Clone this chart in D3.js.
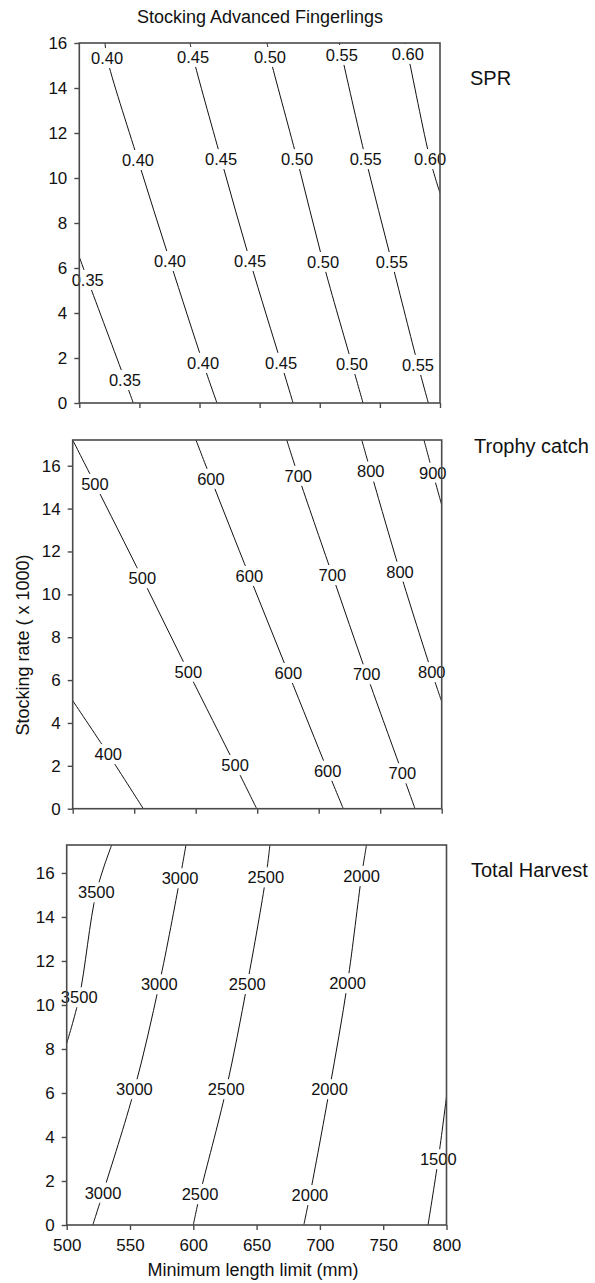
<!DOCTYPE html>
<html>
<head>
<meta charset="utf-8">
<script src="https://cdn.jsdelivr.net/npm/d3@7"></script>
<style>
    body { margin: 0; background: #fff; }
    svg text { font-family: Arial, "Liberation Sans", sans-serif; fill: #111; }
</style>
</head>
<body>
<div id="chart"></div>
<script>
// Shared axis ticks
const xTicks = [500, 550, 600, 650, 700, 750, 800];
const yTicks = [0, 2, 4, 6, 8, 10, 12, 14, 16];

// SPR contours: [min length limit (mm), stocking rate (x1000)]
const sprLevels = ["0.35", "0.40", "0.45", "0.50", "0.55", "0.60"];
const sprLines = [
    [[500, 6.49], [507.0, 5.47], [538.0, 1.02], [544.9, 0]],
    [[521.4, 16], [523.1, 15.33], [548.8, 10.8], [575.4, 6.31], [602.9, 1.78], [614.5, 0]],
    [[592.1, 16], [594.6, 15.38], [617.9, 10.84], [642.0, 6.31], [667.8, 1.78], [677.8, 0]],
    [[656.1, 16], [658.6, 15.38], [681.1, 10.84], [702.7, 6.27], [726.8, 1.73], [736.0, 0]],
    [[716.3, 16], [718.3, 15.47], [738.2, 10.84], [759.9, 6.27], [781.7, 1.69], [790.3, 0]],
    [[770.9, 16], [773.2, 15.51], [791.7, 10.84], [800, 9.33]]
];
const sprLabelAt = [
    [5.47, 1.02],
    [15.33, 10.8, 6.31, 1.78],
    [15.38, 10.84, 6.31, 1.78],
    [15.38, 10.84, 6.27, 1.73],
    [15.47, 10.84, 6.27, 1.69],
    [15.51, 10.84]
];

// Trophy catch contours
const trophyLevels = ["400", "500", "600", "700", "800", "900"];
const trophyLines = [
    [[500, 5.04], [528.9, 2.55], [557.4, 0]],
    [[500, 17.2], [518.1, 15.15], [556.6, 10.75], [594.0, 6.39], [632.0, 2.04], [649.6, 0]],
    [[600.2, 17.2], [612.4, 15.39], [643.6, 10.86], [675.3, 6.33], [707.3, 1.77], [720.0, 0]],
    [[674.0, 17.2], [683.4, 15.53], [711.1, 10.9], [739.0, 6.27], [768.0, 1.65], [778.3, 0]],
    [[735.0, 17.2], [742.3, 15.73], [766.1, 11.06], [791.9, 6.37], [800, 5.0]],
    [[785.6, 17.2], [792.7, 15.68], [800, 14.17]]
];
const trophyLabelAt = [
    [2.55],
    [15.15, 10.75, 6.39, 2.04],
    [15.39, 10.86, 6.33, 1.77],
    [15.53, 10.9, 6.27, 1.65],
    [15.73, 11.06, 6.37],
    [15.68]
];

// Total harvest contours
const harvestLevels = ["3500", "3000", "2500", "2000", "1500"];
const harvestLines = [
    [[535.5, 17.27], [523.4, 15.12], [509.9, 10.35], [500, 8.26]],
    [[594.2, 17.27], [589.5, 15.76], [573.1, 10.94], [553.5, 6.17], [528.7, 1.47], [520.6, 0]],
    [[660.5, 17.27], [657.3, 15.8], [642.6, 10.95], [626.0, 6.17], [605.3, 1.41], [600.0, 0]],
    [[736.8, 17.27], [732.9, 15.86], [721.8, 10.99], [707.6, 6.17], [692.1, 1.36], [687.3, 0]],
    [[800, 5.83], [793.5, 2.99], [785.4, 0]]
];
const harvestLabelAt = [
    [15.12, 10.35],
    [15.76, 10.94, 6.17, 1.47],
    [15.8, 10.95, 6.17, 1.41],
    [15.86, 10.99, 6.17, 1.36],
    [2.99]
];

const BORDER = "#4a4a4a";

let svg = d3.select("#chart")
    .append("svg")
    .attr("width", 595)
    .attr("height", 1283);

// x position on a polyline at a given stocking rate
function xAtRate(pts, r) {
    for (let i = 0; i < pts.length - 1; i++) {
        const a = pts[i], b = pts[i + 1];
        const lo = Math.min(a[1], b[1]), hi = Math.max(a[1], b[1]);
        if (r >= lo && r <= hi) {
            const t = b[1] === a[1] ? 0 : (r - a[1]) / (b[1] - a[1]);
            return a[0] + t * (b[0] - a[0]);
        }
    }
    return pts[0][0];
}

function drawPanel(p) {
    let x = d3.scaleLinear().domain([500, 800]).range([p.left, p.right]);
    let y = d3.scaleLinear().domain([0, p.yMax]).range([p.bottom, p.top]);

    const clipId = "clip-" + p.id;
    svg.append("clipPath")
        .attr("id", clipId)
        .append("rect")
        .attr("x", p.left).attr("y", p.top)
        .attr("width", p.right - p.left)
        .attr("height", p.bottom - p.top);

    let line = d3.line()
        .x(function(d) { return x(d[0]); })
        .y(function(d) { return y(d[1]); })
        .curve(d3.curveCatmullRom);

    let g = svg.append("g");

    g.append("g")
        .attr("clip-path", "url(#" + clipId + ")")
        .selectAll("path")
        .data(p.lines)
        .enter()
        .append("path")
        .attr("d", line)
        .attr("fill", "none")
        .attr("stroke", "#111")
        .attr("stroke-width", 1);

    // contour labels, with a white patch that breaks the line
    let labels = [];
    p.lines.forEach(function(pts, i) {
        p.labelAt[i].forEach(function(r) {
            labels.push({ text: p.levels[i], x: xAtRate(pts, r), y: r });
        });
    });

    let lg = g.append("g")
        .selectAll("g")
        .data(labels)
        .enter()
        .append("g")
        .attr("transform", function(d) {
            return "translate(" + x(d.x) + "," + y(d.y) + ")";
        });

    lg.append("rect")
        .attr("x", function(d) { return -d.text.length * 4.6 - 1; })
        .attr("y", -10)
        .attr("width", function(d) { return d.text.length * 9.2 + 2; })
        .attr("height", 20)
        .attr("fill", "#fff");

    lg.append("text")
        .attr("text-anchor", "middle")
        .attr("dy", "0.36em")
        .style("font-size", "16.5px")
        .text(function(d) { return d.text; });

    // axes
    let yAxis = g.append("g")
        .attr("transform", "translate(" + p.left + ",0)")
        .call(d3.axisLeft(y).tickValues(yTicks).tickSize(5).tickPadding(7));

    let xAxis = g.append("g")
        .attr("transform", "translate(0," + p.bottom + ")")
        .call(d3.axisBottom(x).tickValues(xTicks).tickSize(5).tickPadding(9)
            .tickFormat(p.xLabels ? d3.format("d") : ""));

    [yAxis, xAxis].forEach(function(a) {
        a.select(".domain").remove();
        a.selectAll(".tick line").attr("stroke", BORDER).attr("stroke-width", 1.4);
        a.selectAll(".tick text")
            .style("font-size", "17px")
            .style("font-family", "Arial, 'Liberation Sans', sans-serif")
            .attr("fill", "#111");
    });

    g.append("rect")
        .attr("x", p.left).attr("y", p.top)
        .attr("width", p.right - p.left)
        .attr("height", p.bottom - p.top)
        .attr("fill", "none")
        .attr("stroke", BORDER)
        .attr("stroke-width", 1.6);

    svg.append("text")
        .attr("x", p.nameX)
        .attr("y", p.nameY)
        .style("font-size", "20px")
        .text(p.name);
}

drawPanel({
    id: "spr", name: "SPR", nameX: 470, nameY: 85,
    left: 79.3, right: 440, top: 43, bottom: 403, yMax: 16,
    levels: sprLevels, lines: sprLines, labelAt: sprLabelAt, xLabels: false
});

drawPanel({
    id: "trophy", name: "Trophy catch", nameX: 474, nameY: 453,
    left: 72.7, right: 441.7, top: 440, bottom: 808.7, yMax: 17.2,
    levels: trophyLevels, lines: trophyLines, labelAt: trophyLabelAt, xLabels: false
});

drawPanel({
    id: "harvest", name: "Total Harvest", nameX: 471, nameY: 877,
    left: 66.7, right: 446.5, top: 845, bottom: 1225, yMax: 17.27,
    levels: harvestLevels, lines: harvestLines, labelAt: harvestLabelAt, xLabels: true
});

svg.append("text")
    .attr("x", 260)
    .attr("y", 23)
    .attr("text-anchor", "middle")
    .style("font-size", "18px")
    .text("Stocking Advanced Fingerlings");

svg.append("text")
    .attr("transform", "translate(29,645) rotate(-90)")
    .attr("text-anchor", "middle")
    .style("font-size", "18px")
    .text("Stocking rate ( x 1000)");

svg.append("text")
    .attr("x", 253)
    .attr("y", 1276)
    .attr("text-anchor", "middle")
    .style("font-size", "18px")
    .text("Minimum length limit (mm)");
</script>
</body>
</html>
